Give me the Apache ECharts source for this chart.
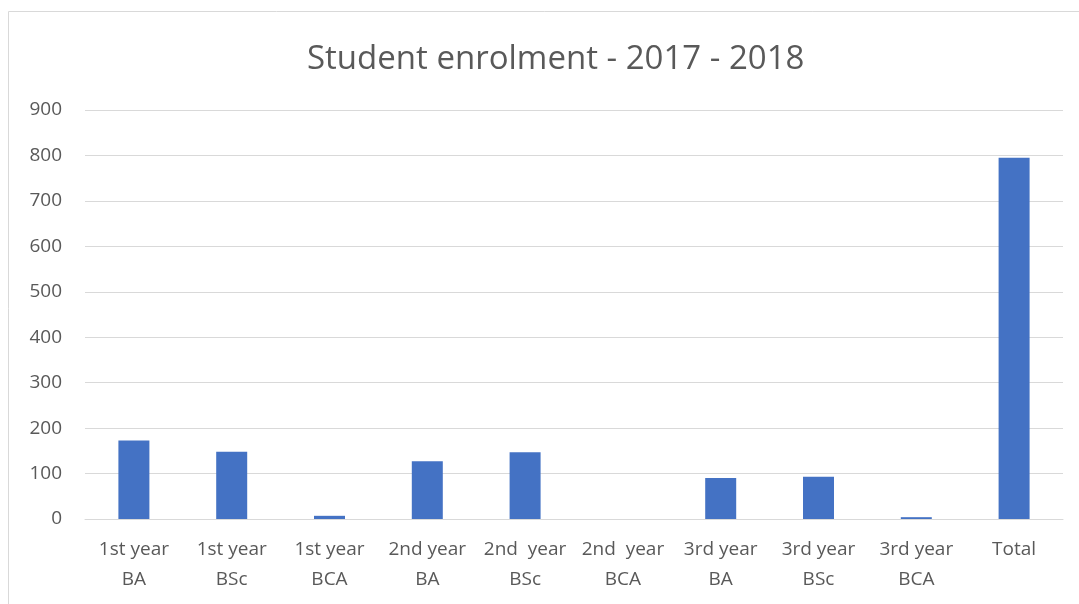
<!DOCTYPE html>
<html><head><meta charset="utf-8">
<script src="https://cdn.jsdelivr.net/npm/echarts@6/dist/echarts.min.js"></script>
<style>html,body{margin:0;padding:0;background:#fff;}#c{width:1079px;height:604px;}</style>
</head><body><div id="c"></div>
<script>
const categories = ["1st year\nBA","1st year\nBSc","1st year\nBCA","2nd year\nBA","2nd  year\nBSc","2nd  year\nBCA","3rd year\nBA","3rd year\nBSc","3rd year\nBCA","Total"];
const enrolment = [173,148,7,127,147,0,90,93,4,795];
const yTicks = {min:0,max:900,interval:100};
const titleText = "Student enrolment - 2017 - 2018";

const chart = echarts.init(document.getElementById('c'));
chart.setOption({
  animation:false,
  title:{text:titleText,left:302,top:38,textStyle:{fontFamily:'Open Sans',fontWeight:'normal',fontSize:33,color:'#595959'}},
  graphic:[{type:'rect',shape:{x:8.5,y:11.5,width:1200,height:800},style:{fill:'none',stroke:'#d9d9d9',lineWidth:1}}],
  grid:{left:85,right:16,top:110,bottom:85},
  xAxis:{type:'category',data:categories,
    axisLine:{show:true,lineStyle:{color:'#d9d9d9',width:1}},axisTick:{show:false},
    axisLabel:{color:'#595959',fontFamily:'Open Sans',fontSize:19,lineHeight:30,margin:16,interval:0}},
  yAxis:{type:'value',min:yTicks.min,max:yTicks.max,interval:yTicks.interval,
    axisLine:{show:false},axisTick:{show:false},
    splitLine:{lineStyle:{color:'#d9d9d9',width:1}},
    axisLabel:{color:'#595959',fontFamily:'Open Sans',fontSize:19,margin:23}},
  series:[{type:'bar',data:enrolment,barWidth:31,itemStyle:{color:'#4472c4'}}]
});
</script></body></html>
